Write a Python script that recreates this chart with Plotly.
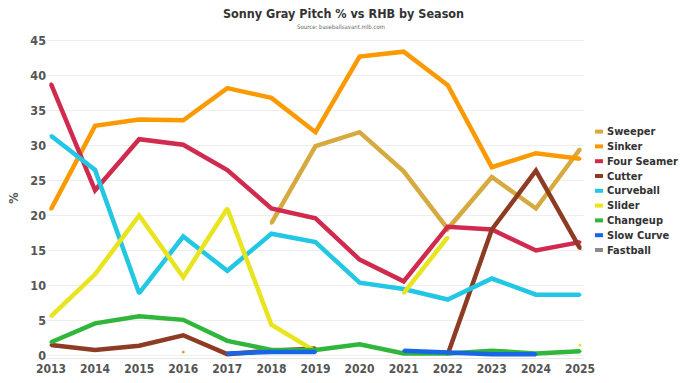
import plotly.graph_objects as go

years = [2013, 2014, 2015, 2016, 2017, 2018, 2019, 2020, 2021, 2022, 2023, 2024, 2025]

sweeper = [None, None, None, 0.5, None, 18.9, 29.9, 31.9, 26.3, 18.1, 25.5, 21.0, 29.5]
sinker = [20.9, 32.8, 33.7, 33.6, 38.2, 36.8, 31.9, 42.7, 43.4, 38.6, 26.9, 28.9, 28.1]
four_seamer = [38.8, 23.6, 30.9, 30.1, 26.5, 21.0, 19.6, 13.7, 10.6, 18.4, 18.0, 15.0, 16.2]
cutter = [1.5, 0.8, 1.4, 2.9, 0.2, 0.7, 1.0, None, None, 0.2, 18.0, 26.4, 15.3]
curveball = [31.4, 26.5, 8.9, 17.0, 12.1, 17.4, 16.2, 10.4, 9.5, 8.0, 11.0, 8.7, 8.7]
slider = [5.6, 11.6, 20.0, 11.2, 21.0, 4.4, 0.6, None, 8.9, 16.9, None, None, 1.5]
changeup = [1.9, 4.6, 5.6, 5.1, 2.1, 0.8, 0.8, 1.6, 0.3, 0.3, 0.7, 0.3, 0.6]
slow_curve = [None, None, None, None, 0.3, 0.5, 0.5, None, 0.7, 0.4, 0.2, 0.2, None]
fastball = [None] * 13

names = ["Sweeper", "Sinker", "Four Seamer", "Cutter", "Curveball", "Slider",
         "Changeup", "Slow Curve", "Fastball"]
series = [sweeper, sinker, four_seamer, cutter, curveball, slider, changeup,
          slow_curve, fastball]
colors = ["#D6AA3E", "#FB9A00", "#D02B4F", "#8E3B24", "#22C7E3", "#E8E41E",
          "#2FB63B", "#1766E6", "#8A8A8A"]

FONT = "DejaVu Sans Condensed, Roboto, sans-serif"

W, H = 680, 383
ML, MR, MT, MB = 47, 96, 38, 25
PW, PH = W - ML - MR, H - MT - MB


def px_x(px):
    return (px - ML) / PW


def px_y(py):
    return (H - MB - py) / PH


fig = go.Figure()
for n, s, c in zip(names, series, colors):
    fig.add_trace(go.Scatter(
        x=years, y=s, name=n, mode="lines+markers",
        line=dict(color=c, width=4.5),
        marker=dict(color=c, size=3),
        showlegend=False, hoverinfo="skip"))

annotations = [
    dict(text="<b>Sonny Gray Pitch % vs RHB by Season</b>", xref="paper", yref="paper",
         x=px_x(343), y=px_y(13), xanchor="center", yanchor="middle", showarrow=False,
         font=dict(family=FONT, size=12.5, color="#333")),
    dict(text="Source: baseballsavant.mlb.com", xref="paper", yref="paper",
         x=px_x(341), y=px_y(27), xanchor="center", yanchor="middle", showarrow=False,
         font=dict(family=FONT, size=6, color="#666")),
]
shapes = []
for i, (n, c) in enumerate(zip(names, colors)):
    yc = 131.6 + i * 14.8
    shapes.append(dict(type="line", xref="paper", yref="paper",
                       x0=px_x(595), x1=px_x(603), y0=px_y(yc), y1=px_y(yc),
                       line=dict(color=c, width=4)))
    annotations.append(dict(text=f"<b>{n}</b>", xref="paper", yref="paper",
                            x=px_x(605), y=px_y(yc), xanchor="left", yanchor="middle",
                            showarrow=False,
                            font=dict(family=FONT, size=11, color="#333")))

fig.update_layout(
    width=W, height=H,
    margin=dict(l=ML, r=MR, t=MT, b=MB),
    paper_bgcolor="white", plot_bgcolor="white",
    font=dict(family=FONT, color="#444"),
    showlegend=False,
    annotations=annotations,
    shapes=shapes,
)
fig.update_xaxes(
    range=[2012.91, 2025.09], tickmode="array", tickvals=years,
    ticktext=[str(y) for y in years], automargin=False,
    showgrid=False, zeroline=False, showline=True, linecolor="#e6e6e6",
    tickfont=dict(family=FONT, size=12, color="#555", weight="bold"),
    ticks="")
fig.update_yaxes(
    range=[-0.35, 45.35], tickvals=[0, 5, 10, 15, 20, 25, 30, 35, 40, 45],
    showgrid=True, gridcolor="#eeeeee", zeroline=False, automargin=False,
    tickfont=dict(family=FONT, size=12.5, color="#555", weight="bold"),
    title=dict(text="%", font=dict(family=FONT, size=12.5, color="#555", weight="bold"),
               standoff=8),
    ticks="")

fig.write_html("out.html", config={"displayModeBar": False},
               post_script="document.body.style.margin='0';document.body.style.padding='0';")
